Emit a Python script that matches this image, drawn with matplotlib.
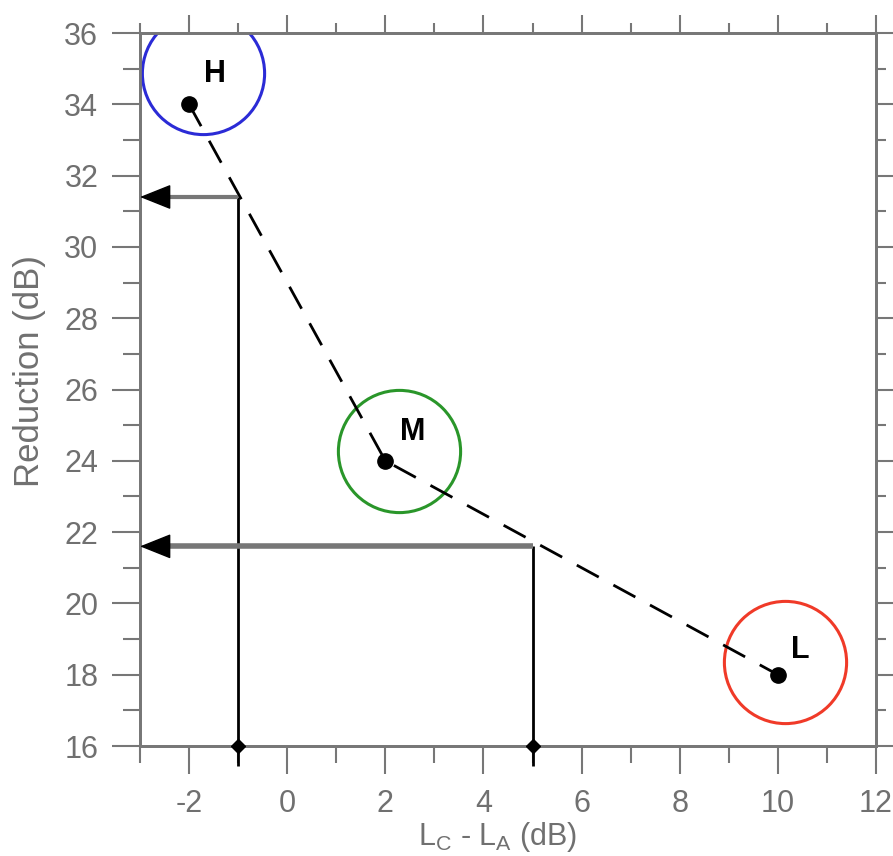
import matplotlib.pyplot as plt
from matplotlib.ticker import MultipleLocator

plt.rcParams['font.family'] = ['Liberation Sans', 'DejaVu Sans']
plt.rcParams['axes.unicode_minus'] = False
plt.rcParams['mathtext.default'] = 'regular'

# data
names = ['H', 'M', 'L']
lc_la = [-2, 2, 10]          # L_C - L_A (dB)
reduction = [34, 24, 18]     # Reduction (dB)
ring_colors = ['#2b2bd6', '#2a962a', '#f03a28']
ring_x = [-1.71, 2.28, 10.15]
ring_y = [34.88, 24.27, 18.36]
label_x = [-1.47, 2.55, 10.45]
label_y = [34.85, 24.8, 18.7]

# worked examples: read-off lines
example_x = [-1, 5]
example_y = [31.4, 21.6]
shaft_w = [3, 4]

grey = '#777777'
tick_grey = '#707070'
pos = [140 / 893, 1 - 746 / 856, 736 / 893, 713 / 856]

fig = plt.figure(figsize=(8.93, 8.56), dpi=100)

# second frame only for the shorter top/right ticks
ax2 = fig.add_axes(pos, facecolor='none')
ax2.set_xlim(-3, 12)
ax2.set_ylim(16, 36)
ax2.xaxis.tick_top()
ax2.yaxis.tick_right()
for a in (ax2.xaxis, ax2.yaxis):
    a.set_major_locator(MultipleLocator(2))
    a.set_minor_locator(MultipleLocator(1))
ax2.tick_params(which='major', direction='out', length=13, width=1.5, color=grey,
                labeltop=False, labelright=False)
ax2.tick_params(which='minor', direction='out', length=7, width=1.5, color=grey)
for s in ax2.spines.values():
    s.set_color(grey)
    s.set_linewidth(2)

ax = fig.add_axes(pos, facecolor='none')
ax.set_xlim(-3, 12)
ax.set_ylim(16, 36)

# dashed curve through the three points
ax.plot(lc_la, reduction, color='black', lw=2, dashes=(9, 6), zorder=3)
ax.plot(lc_la, reduction, 'o', color='black', ms=11, zorder=4)

# rings and labels
for xr, yr, c in zip(ring_x, ring_y, ring_colors):
    ax.plot(xr, yr, 'o', ms=88, mfc='none', mec=c, mew=2.2, zorder=2)
for xl, yl, n in zip(label_x, label_y, names):
    ax.text(xl, yl, n, fontsize=22, fontweight='bold', ha='center', va='center', zorder=5)

# read-off arrows
for xe, ye, w in zip(example_x, example_y, shaft_w):
    ax.plot([xe, xe], [15.45, ye], color='black', lw=2, clip_on=False, zorder=3,
            solid_capstyle='butt')
    ax.plot(xe, 16, 'D', color='black', ms=7, clip_on=False, zorder=4)
    ax.plot([xe, -2.6], [ye, ye], color=grey, lw=w, zorder=3, solid_capstyle='butt')
    ax.annotate('', xy=(-3, ye), xytext=(-2.45, ye),
                arrowprops=dict(arrowstyle='-|>,head_length=2.0,head_width=0.8',
                                color='black', lw=1, shrinkA=0, shrinkB=0,
                                mutation_scale=10),
                annotation_clip=False, zorder=5)

# axes styling
for s in ax.spines.values():
    s.set_color(grey)
    s.set_linewidth(2)
for a in (ax.xaxis, ax.yaxis):
    a.set_major_locator(MultipleLocator(2))
    a.set_minor_locator(MultipleLocator(1))
ax.tick_params(which='major', direction='out', length=20, width=1.5, color=grey,
               labelsize=22, labelcolor=tick_grey)
ax.tick_params(axis='x', which='major', pad=11)
ax.tick_params(axis='y', which='major', pad=10)
ax.tick_params(which='minor', direction='out', length=12, width=1.5, color=grey)

ax.set_xlabel(r'L$_{C}$ - L$_{A}$ (dB)', fontsize=22, color=tick_grey)
ax.set_ylabel('Reduction (dB)', fontsize=25, color=tick_grey)
ax.xaxis.set_label_coords(0.486, -0.104)
ax.yaxis.set_label_coords(-0.128, 0.526)

fig.savefig('out.png', dpi=100)
